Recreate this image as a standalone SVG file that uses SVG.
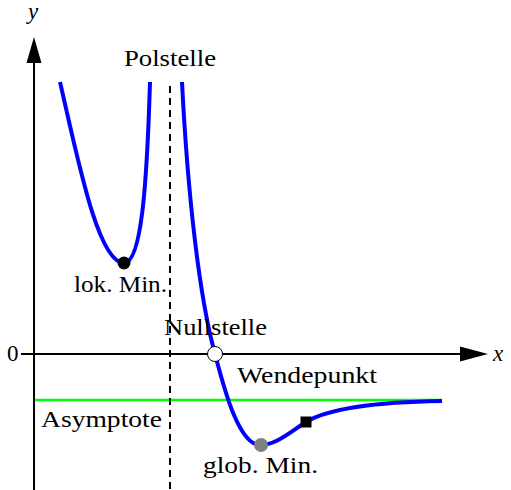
<svg xmlns="http://www.w3.org/2000/svg" width="511" height="490" viewBox="0 0 511 490">
<style>
.lbl{font-family:"Liberation Serif","Times New Roman",serif;font-size:23px;fill:#000}
.ax{stroke:#000;stroke-width:2;fill:none}
.curve{stroke:#0000ff;stroke-width:4;fill:none}
</style>
<rect width="511" height="490" fill="#fff"/>
<g id="connectors">
<line id="asymptote-h" x1="34" y1="400" x2="442" y2="400" stroke="#00ff00" stroke-width="2.5"/>
<line id="asymptote-v" x1="170" y1="86" x2="170" y2="490" stroke="#000" stroke-width="2" stroke-dasharray="7,5"/>
<line class="ax" x1="34" y1="490" x2="34" y2="60"/>
<polygon points="34,37 26.5,63 41.5,63" fill="#000"/>
<line class="ax" x1="21" y1="354" x2="462" y2="354"/>
<polygon points="488,354 460,346.5 460,361.5" fill="#000"/>
<path class="curve" d="M60,82 C78,160 98,263 124,263 C142,263 147,180 150,82"/>
<path class="curve" d="M182,82 C188,200 200,300 215,354 C223,384 238,445 260,445 C276,445 290,432 306,422 C326,410 370,402 442,401"/>
</g>
<g id="axis-labels">
<text class="lbl" x="33" y="19" text-anchor="middle" font-style="italic">y</text>
<text class="lbl" x="493" y="361" font-style="italic">x</text>
<text class="lbl" x="7" y="361">0</text>
</g>
<g id="polstelle"><text class="lbl" x="124" y="66" textLength="92" lengthAdjust="spacingAndGlyphs">Polstelle</text></g>
<g id="lok-min">
<circle cx="124" cy="263" r="6.5" fill="#000"/>
<text class="lbl" x="74" y="292" textLength="93" lengthAdjust="spacingAndGlyphs">lok. Min.</text>
</g>
<g id="nullstelle">
<circle cx="215" cy="354" r="7.5" fill="#fff" stroke="#000" stroke-width="1"/>
<text class="lbl" x="164" y="335" textLength="103" lengthAdjust="spacingAndGlyphs">Nullstelle</text>
</g>
<g id="wendepunkt">
<rect x="300.5" y="416.5" width="11" height="11" fill="#000"/>
<text class="lbl" x="237" y="383" textLength="140" lengthAdjust="spacingAndGlyphs">Wendepunkt</text>
</g>
<g id="glob-min">
<circle cx="261" cy="445" r="7" fill="#808080"/>
<text class="lbl" x="203" y="473" textLength="115" lengthAdjust="spacingAndGlyphs">glob. Min.</text>
</g>
<g id="asymptote-label"><text class="lbl" x="41" y="427" textLength="121" lengthAdjust="spacingAndGlyphs">Asymptote</text></g>
</svg>
